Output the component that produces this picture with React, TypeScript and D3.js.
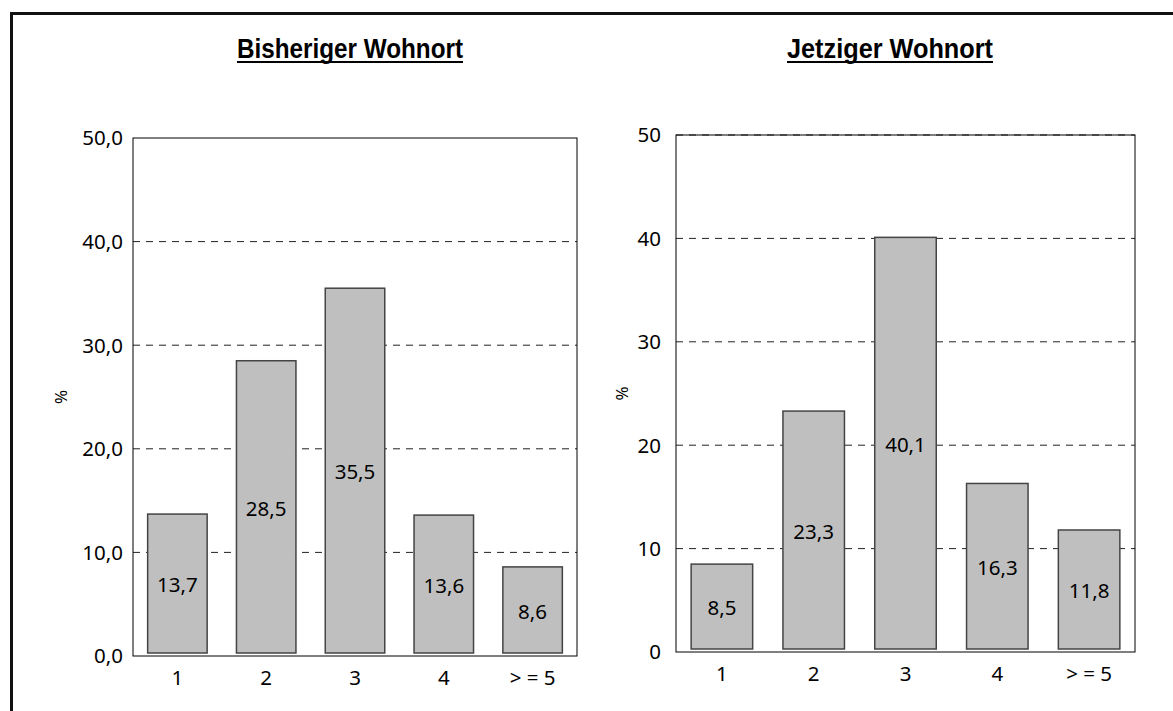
import React from "react";
import * as d3 from "d3";

const categories = ["1", "2", "3", "4", "> = 5"];
const bisherigValues = [13.7, 28.5, 35.5, 13.6, 8.6];
const jetzigValues = [8.5, 23.3, 40.1, 16.3, 11.8];
const yTicks = [0, 10, 20, 30, 40, 50];
const titles = ["Bisheriger Wohnort", "Jetziger Wohnort"];
const yAxisLabel = "%";

const W = 1173;
const H = 711;
const FONT = "'Noto Sans', 'Open Sans', sans-serif";
const TITLE_FONT = "'Liberation Sans', Arial, sans-serif";
const FS = 20.5;

type PanelProps = {
  values: number[];
  title: string;
  x0: number;
  x1: number;
  yTop: number;
  yBottom: number;
  fmt: (v: number) => string;
  labelRight: number;
  titleX: number;
  titleW: number;
  pctX: number;
  dashedTop: boolean;
};

function Panel(p: PanelProps) {
  const x = d3.scaleBand<string>().domain(categories).range([p.x0, p.x1]).paddingInner(0.33).paddingOuter(0.165);
  const y = d3.scaleLinear().domain([0, 50]).range([p.yBottom, p.yTop]);
  const titleBaseline = 58;
  return (
    <g>
      <text
        x={p.titleX}
        y={titleBaseline}
        textAnchor="middle"
        fontFamily={TITLE_FONT}
        fontWeight="bold"
        fontSize={28}
        textLength={p.titleW}
        lengthAdjust="spacingAndGlyphs"
        fill="#000"
      >
        {p.title}
      </text>
      <line x1={p.titleX - p.titleW / 2} x2={p.titleX + p.titleW / 2} y1={62} y2={62} stroke="#000" strokeWidth={2} />
      {yTicks.filter((t) => t > 0 && (t < 50 || p.dashedTop)).map((t) => (
        <line key={"g" + t} x1={p.x0} x2={p.x1} y1={y(t)} y2={y(t)} stroke="#222" strokeWidth={1} strokeDasharray="7,6" />
      ))}
      <rect x={p.x0} y={p.yTop} width={p.x1 - p.x0} height={p.yBottom - p.yTop} fill="none" stroke="#000" strokeWidth={1} />
      {p.values.map((v, i) => (
        <rect
          key={"b" + i}
          x={x(categories[i])!}
          y={y(v)}
          width={x.bandwidth()}
          height={y(0) - 3 - y(v)}
          fill="#bfbfbf"
          stroke="#444"
          strokeWidth={1.5}
        />
      ))}
      {p.values.map((v, i) => (
        <text
          key={"v" + i}
          x={x(categories[i])! + x.bandwidth() / 2}
          y={(y(v) + y(0)) / 2}
          dy="0.36em"
          textAnchor="middle"
          fontFamily={FONT}
          fontSize={FS}
          fill="#000"
        >
          {d3.format(".1f")(v).replace(".", ",")}
        </text>
      ))}
      {yTicks.map((t) => (
        <text key={"t" + t} x={p.labelRight} y={y(t)} dy="0.36em" textAnchor="end" fontFamily={FONT} fontSize={FS} fill="#000">
          {p.fmt(t)}
        </text>
      ))}
      {categories.map((c) => (
        <text
          key={"x" + c}
          x={x(c)! + x.bandwidth() / 2}
          y={p.yBottom + 22}
          dy="0.36em"
          textAnchor="middle"
          fontFamily={FONT}
          fontSize={FS}
          fill="#000"
        >
          {c}
        </text>
      ))}
      <text
        transform={`translate(${p.pctX},${(p.yTop + p.yBottom) / 2}) rotate(-90)`}
        textAnchor="middle"
        dy="0.36em"
        fontFamily={FONT}
        fontSize={17}
        fill="#000"
      >
        {yAxisLabel}
      </text>
    </g>
  );
}

export default function App() {
  return (
    <svg width={W} height={H} style={{ position: "absolute", left: 0, top: 0, background: "#fff" }}>
      <rect x={0} y={0} width={W} height={H} fill="#fff" />
      <path d={`M11.5,${H} L11.5,13.5 L${W},13.5`} fill="none" stroke="#111" strokeWidth={3} />
      <Panel
        values={bisherigValues}
        title={titles[0]}
        x0={133}
        x1={577}
        yTop={138}
        yBottom={656}
        fmt={(v) => d3.format(".1f")(v).replace(".", ",")}
        labelRight={123}
        titleX={350}
        titleW={226}
        pctX={61}
        dashedTop={false}
      />
      <Panel
        values={jetzigValues}
        title={titles[1]}
        x0={676}
        x1={1135}
        yTop={135}
        yBottom={652}
        fmt={(v) => String(v)}
        labelRight={661}
        titleX={890}
        titleW={206}
        pctX={622}
        dashedTop={true}
      />
    </svg>
  );
}
